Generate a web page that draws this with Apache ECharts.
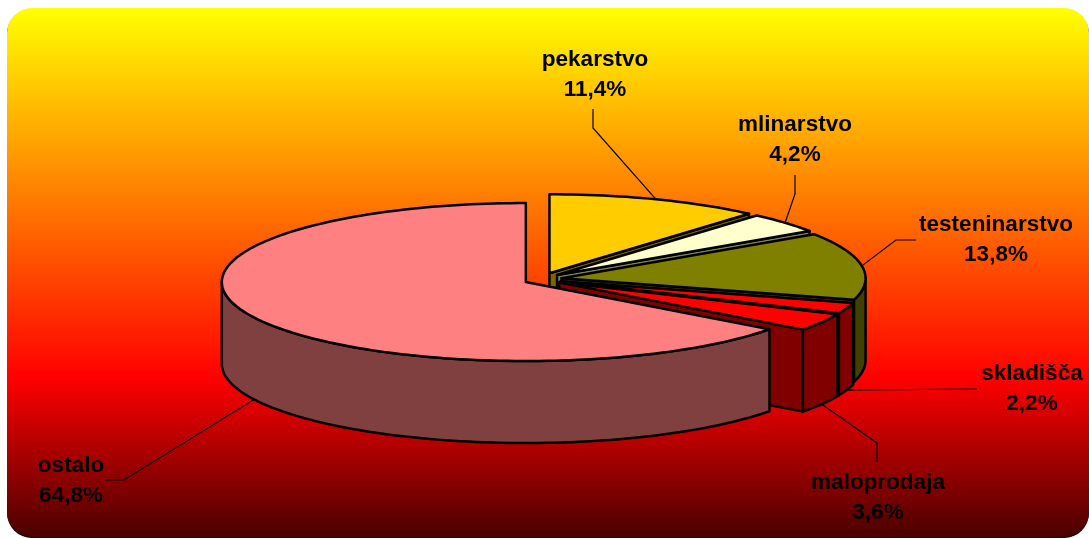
<!DOCTYPE html>
<html><head><meta charset="utf-8">
<style>html,body{margin:0;padding:0;background:#fff}#c{width:1089px;height:538px}</style>
<script src="https://cdn.jsdelivr.net/npm/echarts@6/dist/echarts.min.js"></script>
</head><body><div id="c"></div>
<script>
const categories = ['pekarstvo','mlinarstvo','testeninarstvo','skladišča','maloprodaja','ostalo'];
const shares = [11.4, 4.2, 13.8, 2.2, 3.6, 64.8];
const topColors = ['#FFCC00','#FFFFCC','#808000','#FF0000','#FF0000','#FF8080'];
const sideColors = ['#806600','#808066','#404000','#800000','#800000','#804040'];
// label anchor (centre x, first line centre y) and leader-line elbow points
const labelPos = [[595,60],[795,125],[996,225],[1032,374],[878,483],[71,466]];
const leaderPts = [
  [[593,128],[593,109]],
  [[795,194],[795,175]],
  [[896,240],[916,240]],
  [[977,389]],
  [[877,443],[877,462]],
  [[124,480],[105,480]]
];
const CX=542.8, CY=279.2, RX=304, RY=79, DEPTH=82, EX=19, EY=6.3, LINE=29.5;
const rad = d => d*Math.PI/180;
const total = shares.reduce((a,b)=>a+b,0);
const starts = []; shares.reduce((acc,v,i)=>{starts[i]=acc;return acc+v;},0);

function rim(a,ang,dy){ return [a[0]+RX*Math.sin(rad(ang)), a[1]-RY*Math.cos(rad(ang))+(dy||0)]; }
function arc(a,from,to,dy){
  const n=Math.max(2,Math.ceil(Math.abs(to-from)/1.5)), p=[];
  for(let k=0;k<=n;k++) p.push(rim(a,from+(to-from)*k/n,dy));
  return p;
}
const sty=(fill)=>({fill:fill,stroke:'#000',lineWidth:2.5,lineJoin:'round'});
function poly(points,fill){ return {type:'polygon',shape:{points:points},style:sty(fill),silent:true}; }

function renderItem(params,api){
  const i=params.dataIndex, v=api.value(0);
  const a0=starts[i]/total*360, a1=(starts[i]+v)/total*360, mid=(a0+a1)/2;
  const apex=[CX+EX*Math.sin(rad(mid)), CY-EY*Math.cos(rad(mid))];
  const ch=[];
  // leader line
  const anchor = rim(apex,mid,(mid>90&&mid<270)?DEPTH:0);
  ch.push({type:'polyline',shape:{points:[anchor].concat(leaderPts[i])},style:{stroke:'#000',lineWidth:1.2,fill:null},silent:true});
  // radial end faces
  const down=(p)=>[p[0],p[1]+DEPTH];
  const face=(ang)=>{const r=rim(apex,ang);return poly([apex,r,down(r),down(apex)],sideColors[i]);};
  if(Math.sin(rad(a0))<-1e-6) ch.push(face(a0));
  if(Math.sin(rad(a1))>1e-6) ch.push(face(a1));
  // outer wall (front-facing part only)
  const w0=Math.max(a0,90), w1=Math.min(a1,270);
  if(w1>w0){
    ch.push(poly(arc(apex,w0,w1).concat(arc(apex,w1,w0,DEPTH)),sideColors[i]));
  }
  // top
  ch.push(poly([apex].concat(arc(apex,a0,a1)),topColors[i]));
  // label
  const lp=labelPos[i];
  const font='bold 22.5px "Liberation Sans", Arial, sans-serif';
  ch.push({type:'text',silent:true,style:{x:lp[0],y:lp[1],text:categories[i],font:font,fill:'#000',align:'center',verticalAlign:'middle'}});
  ch.push({type:'text',silent:true,style:{x:lp[0],y:lp[1]+LINE,text:String(v).replace('.',',')+'%',font:font,fill:'#000',align:'center',verticalAlign:'middle'}});
  return {type:'group',children:ch};
}

const chart=echarts.init(document.getElementById('c'),null,{renderer:'canvas'});
chart.setOption({
  animation:false,
  backgroundColor:'#fff',
  graphic:[
    {type:'rect',z:-2,silent:true,shape:{x:7,y:9,width:1082,height:529,r:25},style:{fill:'#000'}},
    {type:'rect',z:-1,silent:true,shape:{x:7,y:8,width:1082,height:529,r:25},
     style:{fill:new echarts.graphic.LinearGradient(0,0,0,1,[
       {offset:0,color:'#FFFF00'},{offset:0.7,color:'#FF0000'},{offset:1,color:'#4A0000'}])}}
  ],
  series:[{type:'custom',coordinateSystem:'none',renderItem:renderItem,silent:true,
    data:shares.map((v,i)=>({name:categories[i],value:[v]}))}]
});
</script></body></html>
